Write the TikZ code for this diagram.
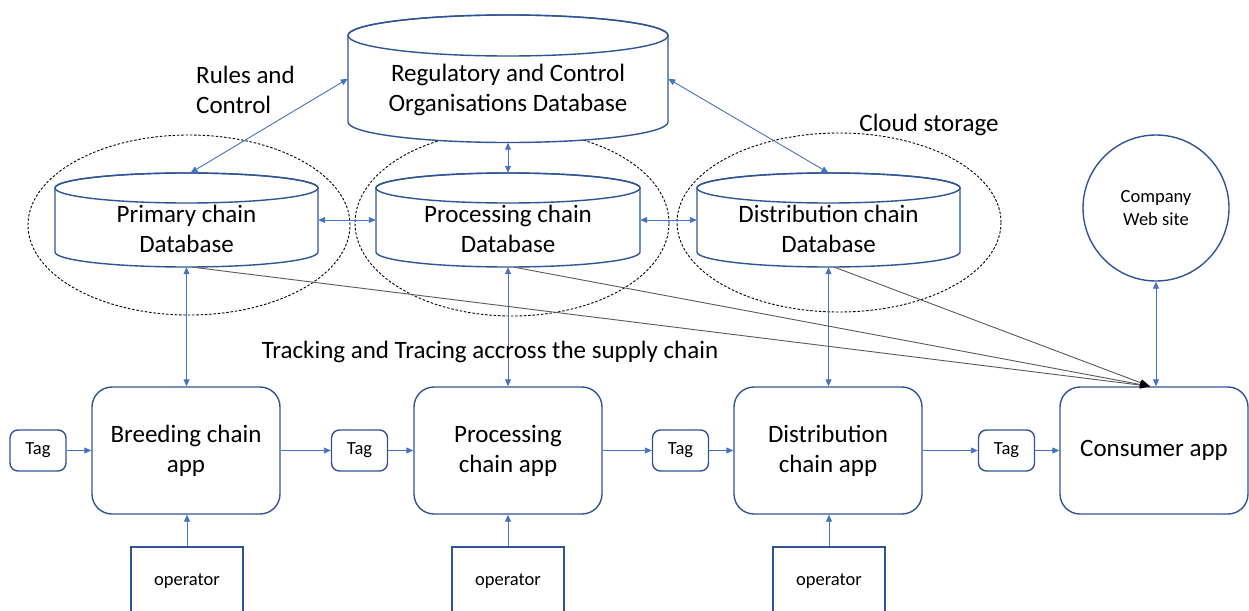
\documentclass[tikz,border=0pt]{standalone}
\usepackage{fontspec}
\setmainfont{Carlito}
\usetikzlibrary{shapes.geometric,arrows.meta}

\definecolor{boxblue}{HTML}{2F5597}
\definecolor{arrowblue}{HTML}{4472C4}
\definecolor{linegray}{HTML}{595959}

\tikzset{
  bigtext/.style={font=\fontsize{25}{30}\selectfont, text=black},
  smalltext/.style={font=\fontsize{18.5}{23}\selectfont, text=black},
  dbline/.style={draw=boxblue, line width=1.4pt},
  dbnode/.style={rectangle, draw=none, inner sep=0pt},
  appbox/.style={rectangle, draw=boxblue, line width=1.4pt, rounded corners=20pt,
    minimum width=188pt, minimum height=127pt, inner sep=0pt, align=center, bigtext},
  tagbox/.style={rectangle, draw=boxblue, line width=1.4pt, rounded corners=8pt,
    minimum width=56pt, minimum height=41pt, inner sep=0pt, smalltext},
  opbox/.style={rectangle, draw=boxblue, line width=1.4pt,
    minimum width=112pt, minimum height=68pt, inner sep=0pt, smalltext},
  storering/.style={ellipse, draw=black, line width=0.9pt,
    dash pattern=on 2.5pt off 1.8pt, inner sep=0pt},
  sitecircle/.style={circle, draw=boxblue, line width=1.4pt, minimum size=146pt,
    inner sep=0pt, align=center, smalltext},
  link/.style={draw=arrowblue, line width=0.9pt, -{Triangle[length=7pt,width=6pt]}},
  dlink/.style={draw=arrowblue, line width=0.9pt,
    {Triangle[length=7pt,width=6pt]}-{Triangle[length=7pt,width=6pt]}},
  trace/.style={draw=linegray, line width=0.9pt,
    -{Triangle[length=10pt,width=7pt,color=black]}},
  caption/.style={bigtext, inner sep=0pt}
}

% database cylinder: name, centre x, top-ellipse y, bottom-ellipse y,
% x radius, y radius, text offset, text
\newcommand\dbase[8]{%
  \filldraw[dbline, fill=white] (#2-#5,-#3) -- (#2-#5,-#4)
    arc[start angle=180, end angle=360, x radius=#5pt, y radius=#6pt]
    -- (#2+#5,-#3)
    arc[start angle=0, end angle=180, x radius=#5pt, y radius=#6pt] -- cycle;
  \draw[dbline] (#2,-#3) ellipse[x radius=#5pt, y radius=#6pt];
  \node[dbnode, minimum width={2*#5}, minimum height={#4-#3+2*#6}]
    (#1) at (#2,{-(#3+#4)/2}) {};
  \node[bigtext, align=center, inner sep=0pt] (#1-text)
    at (#2,{-(#3+#4)/2-#7}) {#8};
}

\begin{document}
\begin{tikzpicture}[x=1pt, y=1pt]
\useasboundingbox (0,0) rectangle (1249,-610);

% cloud storage groupings
\node[storering, minimum width=322pt, minimum height=180pt] (ringA) at (189,-225) {};
\node[storering, minimum width=314pt, minimum height=186pt] (ringB) at (512,-223) {};
\node[storering, minimum width=324pt, minimum height=179pt] (ringC) at (839,-222.5) {};

% databases
\dbase{reg}{508}{35.5}{122}{160}{20.5}{10.75}{Regulatory and Control\\Organisations Database}
\dbase{primdb}{186.5}{188}{252}{131.5}{15}{8.5}{Primary chain\\Database}
\dbase{procdb}{508}{188}{252}{132}{15}{8.5}{Processing chain\\Database}
\dbase{distdb}{828.5}{188}{252}{131.5}{15}{8.5}{Distribution chain\\Database}

% company web site
\node[sitecircle] (web) at (1156,-208) {Company\\Web site};

% chain applications
\node[appbox] (brd)  at (186,-450.5)  {Breeding chain\\app};
\node[appbox] (proc) at (508,-450.5)  {Processing\\chain app};
\node[appbox] (dist) at (828,-450.5)  {Distribution\\chain app};
\node[appbox] (cons) at (1154,-450.5) {Consumer app};

% tags
\node[tagbox] (tagA) at (38,-450.5)   {Tag};
\node[tagbox] (tagB) at (359.5,-450.5) {Tag};
\node[tagbox] (tagC) at (680.5,-450.5) {Tag};
\node[tagbox] (tagD) at (1006.5,-450.5) {Tag};

% operators
\node[opbox] (opA) at (187,-581) {operator};
\node[opbox] (opB) at (508,-581) {operator};
\node[opbox] (opC) at (829,-581) {operator};

% product flow
\draw[link] (tagA) -- (brd);
\draw[link] (brd) -- (tagB);
\draw[link] (tagB) -- (proc);
\draw[link] (proc) -- (tagC);
\draw[link] (tagC) -- (dist);
\draw[link] (dist) -- (tagD);
\draw[link] (tagD) -- (cons);

% operators feed the apps
\draw[link] (opA.north) -- (opA.north |- brd.south);
\draw[link] (opB.north) -- (opB.north |- proc.south);
\draw[link] (opC.north) -- (opC.north |- dist.south);

% apps and their databases
\draw[dlink] (primdb.south) -- (primdb.south |- brd.north);
\draw[dlink] (procdb.south) -- (procdb.south |- proc.north);
\draw[dlink] (distdb.south) -- (distdb.south |- dist.north);

% database exchanges
\draw[dlink] (primdb.east) -- (procdb.west);
\draw[dlink] (procdb.east) -- (distdb.west);
\draw[dlink] (reg.south) -- (procdb.north);
\draw[dlink] (reg.west) -- ([xshift=4pt]primdb.north);
\draw[dlink] (reg.east) -- (distdb.north);
\draw[dlink] (web.south) -- (web.south |- cons.north);

% tracking and tracing lines
\draw[trace] ([xshift=6pt]primdb.south) -- ([xshift=-4pt]cons.north);
\draw[trace] ([xshift=6pt]procdb.south) -- ([xshift=-4pt]cons.north);
\draw[trace] ([xshift=6pt]distdb.south) -- ([xshift=-4pt]cons.north);

% captions
\node[caption, align=left, anchor=west] (rules) at (196,-90) {Rules and\\Control};
\node[caption] (cloudlbl) at (929,-125) {Cloud storage};
\node[caption] (tracklbl) at (490,-352) {Tracking and Tracing accross the supply chain};
\end{tikzpicture}
\end{document}
